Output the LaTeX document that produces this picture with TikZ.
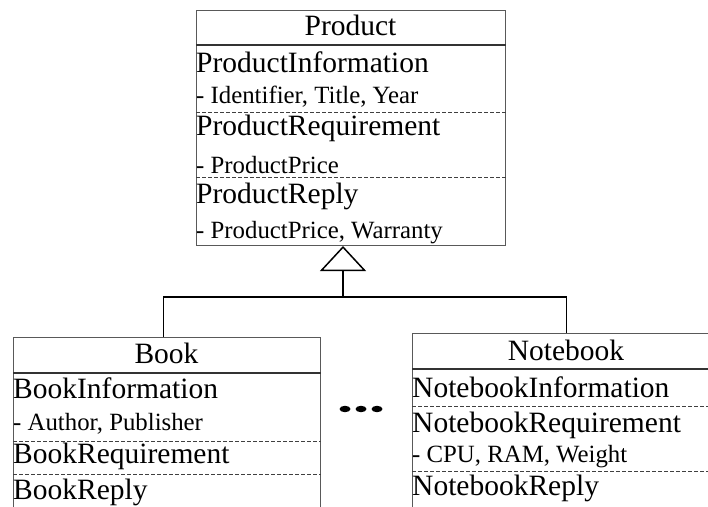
\documentclass[tikz,border=0pt]{standalone}
\usepackage{fontspec}
\setmainfont{Liberation Serif}
\usetikzlibrary{arrows.meta}

\tikzset{
  classbox/.style={draw=black!65, line width=1pt, anchor=north west, inner sep=0pt},
  bigtext/.style={anchor=base west, inner sep=0pt, font=\fontsize{29.5}{32}\selectfont},
  smalltext/.style={anchor=base west, inner sep=0pt, font=\fontsize{24.8}{27}\selectfont},
  titletext/.style={anchor=base, inner sep=0pt, font=\fontsize{29.5}{32}\selectfont},
  titleline/.style={draw=black!80, line width=1.5pt},
  partline/.style={draw=black!75, line width=0.8pt, dash pattern=on 4pt off 2pt},
  link/.style={draw=black, line width=1.5pt},
}

\begin{document}
\begin{tikzpicture}[x=1pt,y=-1pt]
          \useasboundingbox (0,0) rectangle (708,506);
          \clip (0,0) rectangle (708,506);

          % class boxes
          \node[classbox, minimum width=309pt, minimum height=235pt] (product) at (196,10) {};
          \node[classbox, minimum width=307pt, minimum height=200pt] (book) at (13,337) {};
          \node[classbox, minimum width=308pt, minimum height=200pt] (notebook) at (412,333) {};

          % Product
          \node[titletext] (ptitle) at (350.5,35) {Product};
          \node[bigtext] (pinfo) at (196,72) {ProductInformation};
          \node[smalltext] (pinfoattr) at (196,103) {- Identifier, Title, Year};
          \node[bigtext] (preq) at (196,135) {ProductRequirement};
          \node[smalltext] (preqattr) at (196,173) {- ProductPrice};
          \node[bigtext] (prep) at (196,203) {ProductReply};
          \node[smalltext] (prepattr) at (196,238) {- ProductPrice, Warranty};
          \draw[titleline] (product.west |- 0,45) -- (product.east |- 0,45);
          \draw[partline] (product.west |- 0,112) -- (product.east |- 0,112);
          \draw[partline] (product.west |- 0,177) -- (product.east |- 0,177);

          % Book
          \node[titletext] (btitle) at (166.5,363) {Book};
          \node[bigtext] (binfo) at (13,398) {BookInformation};
          \node[smalltext] (binfoattr) at (13,430) {- Author, Publisher};
          \node[bigtext] (breq) at (13,463) {BookRequirement};
          \node[bigtext] (brep) at (13,499) {BookReply};
          \draw[titleline] (book.west |- 0,373) -- (book.east |- 0,373);
          \draw[partline] (book.west |- 0,441) -- (book.east |- 0,441);
          \draw[partline] (book.west |- 0,474) -- (book.east |- 0,474);

          % Notebook
          \node[titletext] (ntitle) at (566,360) {Notebook};
          \node[bigtext] (ninfo) at (412,397) {NotebookInformation};
          \node[bigtext] (nreq) at (412,432) {NotebookRequirement};
          \node[smalltext] (nreqattr) at (412,462) {- CPU, RAM, Weight};
          \node[bigtext] (nrep) at (412,495) {NotebookReply};
          \draw[titleline] (notebook.west |- 0,369) -- (notebook.east |- 0,369);
          \draw[partline] (notebook.west |- 0,406) -- (notebook.east |- 0,406);
          \draw[partline] (notebook.west |- 0,471) -- (notebook.east |- 0,471);

          % inheritance
          \coordinate (tip) at (343,246);
          \coordinate (hub) at (343,297);
          \draw[link] ([xshift=-3.5pt]book.north) |- (hub) -| (notebook.north);
          \draw[link, -{Triangle[open, length=25pt, width=46pt]}] (hub) -- (tip);

          % more classes
          \fill (345,409) ellipse (5.5pt and 3.2pt);
          \fill (361,409) ellipse (5.5pt and 3.2pt);
          \fill (377,409) ellipse (5.5pt and 3.2pt);
      \end{tikzpicture}
\end{document}
